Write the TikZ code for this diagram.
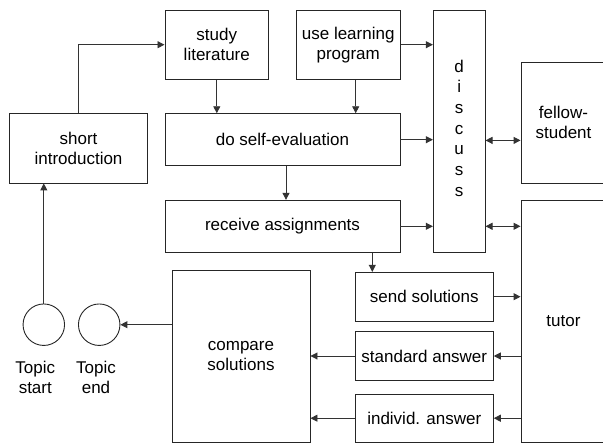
\documentclass[tikz,border=0pt]{standalone}
\usepackage{fontspec}
\setmainfont{Liberation Sans}
\usetikzlibrary{arrows.meta,calc}
\begin{document}
\begin{tikzpicture}[x=1pt,y=-1pt,
  box/.style={draw=black!85,line width=0.9pt,inner sep=0pt,align=center,
    font=\fontsize{17}{20}\selectfont},
  circ/.style={draw=black!85,line width=0.9pt,circle,inner sep=0pt,minimum size=41.5pt},
  lbl/.style={align=center,inner sep=0pt,font=\fontsize{17}{19.5}\selectfont},
  arr/.style={draw=black!80,line width=0.9pt,-{Triangle[length=7pt,width=7pt]}},
  darr/.style={draw=black!80,line width=0.9pt,{Triangle[length=7pt,width=7pt]}-{Triangle[length=7pt,width=7pt]}}]
\useasboundingbox (0,0) rectangle (603,445);
\clip (0,0) rectangle (603,445);
% boxes
\node[box,minimum width=138.4pt,minimum height=69.3pt] (intro) at (78.5,148.3) {short\\introduction};
\node[box,minimum width=103.7pt,minimum height=69.3pt] (study) at (216.8,44.7) {study\\literature};
\node[box,minimum width=103.7pt,minimum height=69.3pt] (uselp) at (348.2,44.7) {use learning\\program};
\node[box,minimum width=235pt,minimum height=52pt] (selfev) at (282.5,139.7) {do self-evaluation};
\node[box,minimum width=235pt,minimum height=52pt] (recv) at (282.5,226.3) {receive assignments};
\node[box,minimum width=51.7pt,minimum height=242.3pt] (disc) at (459.2,131.2) {};
\node[lbl,font=\fontsize{17}{20.7}\selectfont] (disctext) at (disc.center) [yshift=3pt] {d\\i\\s\\c\\u\\s\\s};
\node[box,minimum width=85pt,minimum height=120.7pt] (fellow) at (563.5,122.7) {fellow-\\student};
\node[box,minimum width=85pt,minimum height=242pt] (tutor) at (563.5,321.3) {tutor};
\node[box,minimum width=138pt,minimum height=48.7pt] (send) at (424.3,296.7) {send solutions};
\node[box,minimum width=138pt,minimum height=48.6pt] (std) at (424.3,356) {standard answer};
\node[box,minimum width=138pt,minimum height=48.3pt] (indiv) at (424.3,418.2) {individ. answer};
\node[box,minimum width=138pt,minimum height=172.3pt] (cmp) at (241,356.2) {compare\\solutions};
\node[circ] (tstart) at (43.8,324.7) {};
\node[circ] (tend) at (99.2,324.7) {};
\node[lbl,anchor=north] (lstart) at ([xshift=-8.5pt,yshift=-15.3pt]tstart.south) {Topic\\start};
\node[lbl,anchor=north] (lend) at ([xshift=-3.2pt,yshift=-15.3pt]tend.south) {Topic\\end};
% connectors
\draw[arr] (intro.north) |- (study.west);
\draw[arr] (study.south) -- (study.south |- selfev.north);
\draw[arr] ([xshift=7.5pt]uselp.south) -- ([xshift=7.5pt]uselp.south |- selfev.north);
\draw[arr] (uselp.east) -- (uselp.east -| disc.west);
\draw[arr] (selfev.east) -- (selfev.east -| disc.west);
\draw[darr] ([yshift=-0.7pt]selfev.east -| disc.east) -- ([yshift=-0.7pt]selfev.east -| fellow.west);
\draw[arr] ([xshift=3.5pt]selfev.south) -- ([xshift=3.5pt]selfev.south |- recv.north);
\draw[arr] (recv.east) -- (recv.east -| disc.west);
\draw[darr] (recv.east -| disc.east) -- (recv.east -| tutor.west);
\draw[arr] ([xshift=89.8pt]recv.south) -- ([xshift=89.8pt]recv.south |- send.north);
\draw[arr] (send.east) -- (send.east -| tutor.west);
\draw[arr] (std.east -| tutor.west) -- (std.east);
\draw[arr] (std.west) -- (std.west -| cmp.east);
\draw[arr] (indiv.east -| tutor.west) -- (indiv.east);
\draw[arr] (indiv.west) -- (indiv.west -| cmp.east);
\draw[arr] (tend.east -| cmp.west) -- (tend.east);
\draw[arr] (tstart.north) -- (tstart.north |- intro.south);
\end{tikzpicture}
\end{document}
